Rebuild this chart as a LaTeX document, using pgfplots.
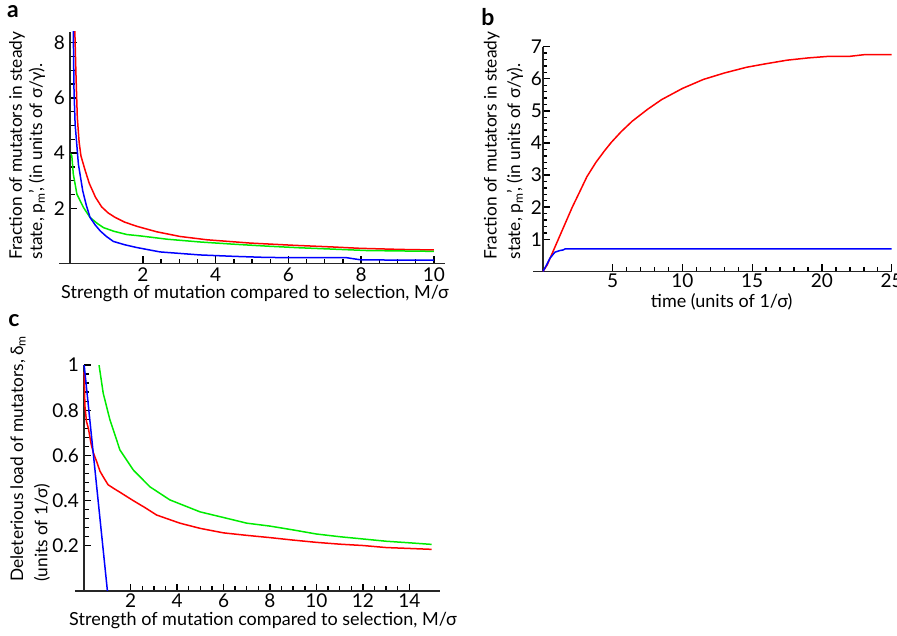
\documentclass[border=0pt]{standalone}
\usepackage{fontspec}
\setmainfont{Lato}
\usepackage{pgfplots}
\pgfplotsset{compat=1.18}
\newcommand\lbl{\fontsize{18}{21}\selectfont}
\newcommand\ylbl{\fontsize{17.3}{20}\selectfont}
\newcommand\tks{\fontsize{19}{22}\selectfont}
\definecolor{cred}{RGB}{255,0,0}
\definecolor{cgreen}{RGB}{0,235,0}
\definecolor{cblue}{RGB}{0,0,255}
\pgfplotsset{myax/.style={
  axis x line=middle, axis y line=middle, scale only axis, anchor=south west,
  axis line style={-, line width=1.4pt, black!85},
  xtick style={draw=black, line width=1.4pt},
  ytick style={draw=black, line width=1.4pt},
  minor tick style={draw=black, line width=1.2pt},
  xtick align=inside, ytick align=inside, major tick length=7pt, minor tick length=4.5pt,
  every axis plot/.append style={line width=1.5pt, no marks},
  ticklabel style={font=\tks, inner sep=1pt},
  /pgf/number format/assume math mode=true,
  clip=true,
}}
\begin{document}
\begin{tikzpicture}
\useasboundingbox (0,0) rectangle (897pt,-636pt);
% ---------------- panel a
\begin{axis}[myax, at={(59.1pt,-263.5pt)}, width=385.8pt, height=231.8pt,
  xmin=-0.3, xmax=10.3, ymin=0, ymax=8.4,
  xtick={2,4,6,8,10}, ytick={2,4,6,8}, minor x tick num=3, minor y tick num=3,
  xticklabel style={yshift=-3pt}, yticklabel style={xshift=-4pt}]
\addplot[cred] coordinates {(0.125,8.8)(0.16,7.0)(0.2,5.3)(0.25,4.4)(0.3,3.9)(0.41,3.4)(0.53,2.9)(0.7,2.4)(0.87,2.05)(1.05,1.83)(1.24,1.67)(1.5,1.50)(1.83,1.35)(2.38,1.15)(3.02,0.98)(3.76,0.86)(4.95,0.74)(6.14,0.66)(7.2,0.60)(7.97,0.55)(9.07,0.51)(10.0,0.49)};
\addplot[cgreen] coordinates {(0.02,3.98)(0.05,3.9)(0.09,3.24)(0.19,2.51)(0.37,2.03)(0.55,1.67)(0.75,1.45)(0.92,1.30)(1.2,1.17)(1.56,1.05)(1.93,1.0)(2.67,0.88)(3.57,0.78)(4.49,0.70)(5.4,0.63)(6.3,0.57)(7.24,0.52)(8.15,0.47)(10,0.44)};
\addplot[cblue] coordinates {(0.08,9.0)(0.09,8.4)(0.11,6.25)(0.14,5.05)(0.23,3.6)(0.35,2.63)(0.45,2.1)(0.55,1.67)(0.69,1.40)(0.83,1.18)(1.0,0.98)(1.19,0.80)(1.5,0.68)(1.83,0.58)(2.47,0.42)(3.57,0.31)(4.49,0.26)(5.4,0.22)(6.3,0.21)(7.6,0.21)(8.0,0.13)(10,0.12)};
\end{axis}
% ---------------- panel b
\begin{axis}[myax, at={(533.2pt,-271.4pt)}, width=358.5pt, height=224.7pt,
  xmin=-0.7, xmax=25, ymin=0, ymax=7,
  xtick={5,10,15,20,25}, ytick={1,2,3,4,5,6,7}, minor x tick num=4, minor y tick num=4,
  xticklabel style={yshift=-1pt}, yticklabel style={xshift=0pt}]
\addplot[cred] coordinates {(0,0)(0.3,0.2)(0.6,0.5)(1.1,1.0)(1.6,1.5)(2.1,2.0)(2.6,2.45)(3.15,2.95)(3.8,3.4)(4.4,3.75)(4.9,4.02)(5.6,4.35)(6.4,4.68)(7.5,5.05)(8.5,5.35)(10,5.7)(11.5,5.98)(13,6.18)(14.6,6.36)(16,6.47)(17.5,6.58)(19,6.65)(20.5,6.7)(22,6.7)(23,6.75)(25,6.75)};
\addplot[cblue] coordinates {(0,0)(0.26,0.2)(0.5,0.41)(0.86,0.6)(1.22,0.65)(1.46,0.67)(1.58,0.70)(25,0.70)};
\end{axis}
% ---------------- panel c
\begin{axis}[myax, at={(74.9pt,-590.9pt)}, width=364.6pt, height=225.8pt,
  xmin=-0.4, xmax=15.3, ymin=0, ymax=1,
  xtick={2,4,6,8,10,12,14}, ytick={0.2,0.4,0.6,0.8,1}, yticklabels={0.2,0.4,0.6,0.8,1},
  minor x tick num=3, minor y tick num=4,
  xticklabel style={yshift=-2pt}, yticklabel style={xshift=-4pt}]
\addplot[cred] coordinates {(0,0.97)(0.03,0.82)(0.1,0.75)(0.18,0.72)(0.3,0.65)(0.4,0.61)(0.54,0.572)(0.68,0.53)(0.85,0.5)(1.03,0.47)(1.3,0.452)(1.54,0.437)(1.8,0.42)(2.11,0.40)(2.6,0.37)(3.12,0.336)(4.12,0.30)(4.99,0.277)(6.0,0.257)(7.0,0.246)(8.0,0.236)(9.0,0.225)(10.0,0.215)(11,0.207)(12,0.201)(13,0.192)(14,0.188)(14.96,0.184)};
\addplot[cgreen] coordinates {(0.64,1.0)(0.82,0.875)(1.11,0.757)(1.54,0.624)(2.11,0.536)(2.83,0.461)(3.69,0.403)(4.99,0.35)(6.0,0.325)(7.0,0.30)(8.0,0.287)(9.0,0.27)(10.0,0.252)(11,0.24)(12,0.23)(13,0.22)(14,0.213)(14.96,0.206)};
\addplot[cblue] coordinates {(0,1)(1,0)};
\end{axis}
% ---------------- labels
\node[font=\fontsize{23}{25}\bfseries] at (13pt,-12pt) {a};
\node[font=\fontsize{23}{25}\bfseries] at (488pt,-17pt) {b};
\node[font=\fontsize{23}{25}\bfseries] at (14pt,-321pt) {c};
\node[font=\lbl] at (255pt,-294pt) {Strength of mutation compared to selection, M/σ};
\node[font=\ylbl, rotate=90, anchor=west] at (17pt,-263pt) {Fraction of mutators in steady};
\node[font=\ylbl, rotate=90, anchor=west] at (37pt,-263pt) {state, p\textsubscript{m}’, (in units of σ/γ).};
\node[font=\ylbl, rotate=90, anchor=west] at (491.7pt,-263pt) {Fraction of mutators in steady};
\node[font=\ylbl, rotate=90, anchor=west] at (515pt,-263pt) {state, p\textsubscript{m}’,\ (in units of σ/γ).};
\node[font=\lbl] at (721.7pt,-302pt) {time (units of 1/σ)};
\node[font=\ylbl, rotate=90, anchor=west] at (18pt,-585pt) {Deleterious load of mutators, δ\textsubscript{m}};
\node[font=\ylbl, rotate=90, anchor=west] at (42pt,-585pt) {(units of 1/σ)};
\node[font=\lbl] at (263pt,-621pt) {Strength of mutation compared to selection, M/σ};
\end{tikzpicture}
\end{document}
